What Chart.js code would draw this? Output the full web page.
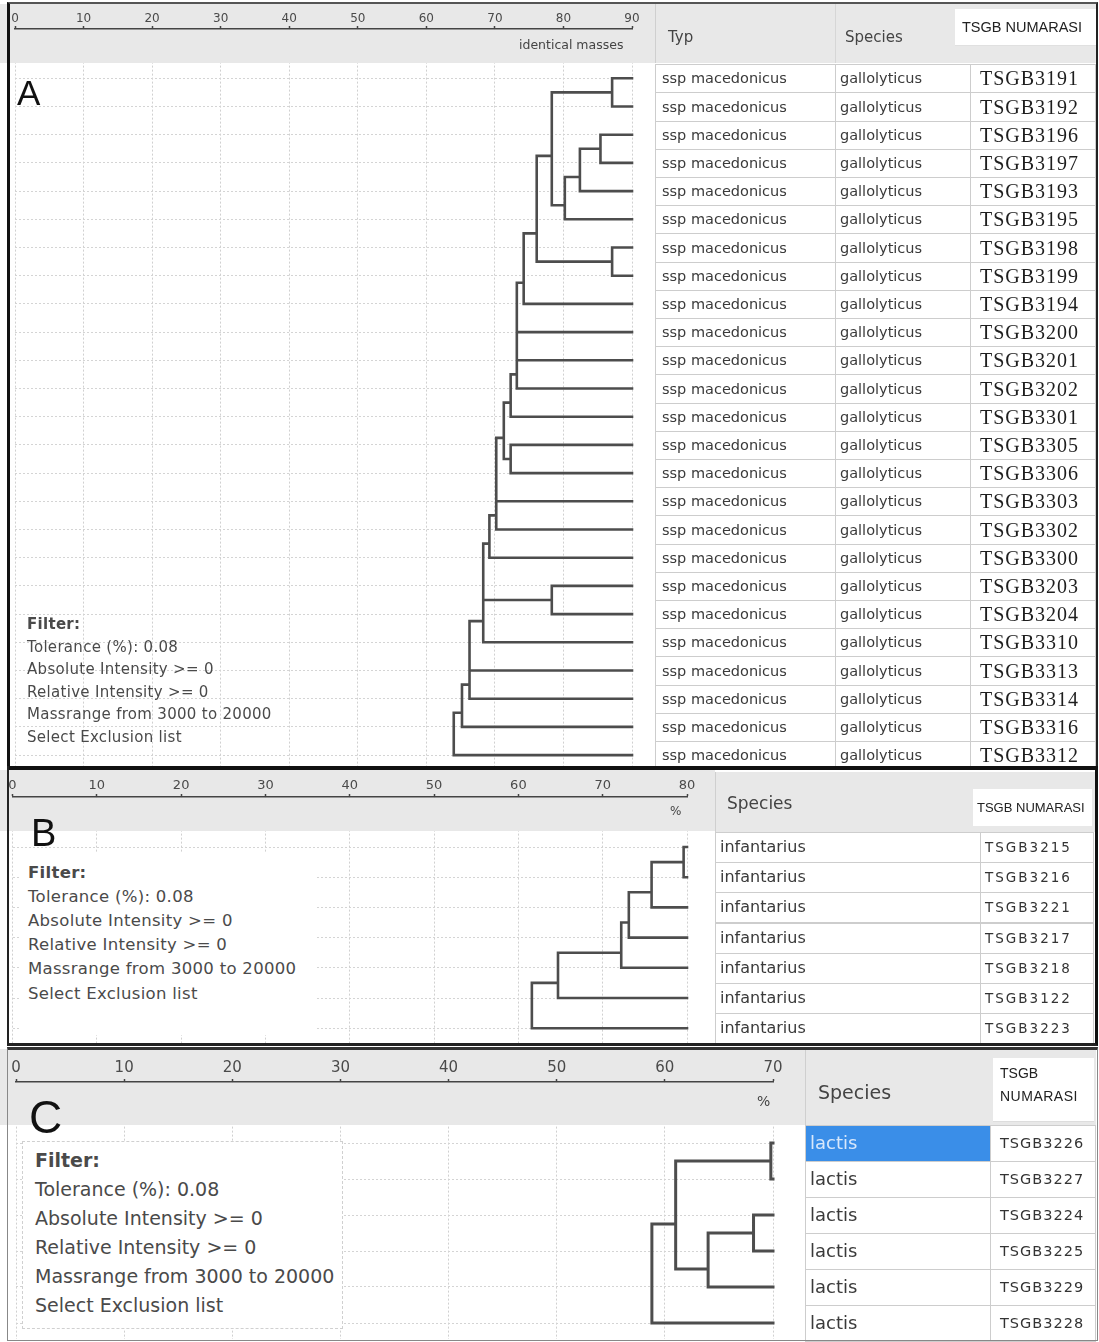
<!DOCTYPE html>
<html>
<head>
<meta charset="utf-8">
<script src="https://cdn.jsdelivr.net/npm/chart.js@4.4.1/dist/chart.umd.min.js"></script>
<style>
  html, body { margin:0; padding:0; background:#fff; }
  body { position:relative; width:1099px; height:1342px; overflow:hidden; font-family:"DejaVu Sans", sans-serif; color:#3c3c3c; }
  .a { position:absolute; white-space:nowrap; box-sizing:border-box; }
  canvas { position:absolute; }
</style>
</head>
<body>
<script>
// ================= DATA =================
// Panel A
const ticksA = [0, 10, 20, 30, 40, 50, 60, 70, 80, 90];
const leafValueA = 90;
const typA = ["ssp macedonicus","ssp macedonicus","ssp macedonicus","ssp macedonicus","ssp macedonicus",
  "ssp macedonicus","ssp macedonicus","ssp macedonicus","ssp macedonicus","ssp macedonicus",
  "ssp macedonicus","ssp macedonicus","ssp macedonicus","ssp macedonicus","ssp macedonicus",
  "ssp macedonicus","ssp macedonicus","ssp macedonicus","ssp macedonicus","ssp macedonicus",
  "ssp macedonicus","ssp macedonicus","ssp macedonicus","ssp macedonicus","ssp macedonicus"];
const speciesA = ["gallolyticus","gallolyticus","gallolyticus","gallolyticus","gallolyticus",
  "gallolyticus","gallolyticus","gallolyticus","gallolyticus","gallolyticus",
  "gallolyticus","gallolyticus","gallolyticus","gallolyticus","gallolyticus",
  "gallolyticus","gallolyticus","gallolyticus","gallolyticus","gallolyticus",
  "gallolyticus","gallolyticus","gallolyticus","gallolyticus","gallolyticus"];
const idsA = ["TSGB3191","TSGB3192","TSGB3196","TSGB3197","TSGB3193","TSGB3195","TSGB3198","TSGB3199",
  "TSGB3194","TSGB3200","TSGB3201","TSGB3202","TSGB3301","TSGB3305","TSGB3306","TSGB3303","TSGB3302",
  "TSGB3300","TSGB3203","TSGB3204","TSGB3310","TSGB3313","TSGB3314","TSGB3316","TSGB3312"];
// merges: [upper child, lower child, similarity]; leaves are 0..n-1, merge k becomes node n+k
const mergesA = [[0,1,87.1],[2,3,85.4],[26,4,82.4],[27,5,80.2],[25,28,78.3],[6,7,87.1],[29,30,76.1],
  [31,8,74.2],[32,9,73.2],[33,10,73.2],[34,11,73.2],[35,12,72.3],[13,14,72.3],[36,37,71.3],
  [38,15,70.2],[39,16,70.2],[40,17,69.2],[18,19,78.3],[41,42,68.3],[43,20,68.3],[44,21,66.3],
  [45,22,66.3],[46,23,65.2],[47,24,64.0]];

// Panel B
const ticksB = [0, 10, 20, 30, 40, 50, 60, 70, 80];
const leafValueB = 80;
const speciesB = ["infantarius","infantarius","infantarius","infantarius","infantarius","infantarius","infantarius"];
const idsB = ["TSGB3215","TSGB3216","TSGB3221","TSGB3217","TSGB3218","TSGB3122","TSGB3223"];
const mergesB = [[0,1,79.6],[7,2,75.8],[8,3,73.1],[9,4,72.2],[10,5,64.7],[11,6,61.6]];

// Panel C
const ticksC = [0, 10, 20, 30, 40, 50, 60, 70];
const leafValueC = 70;
const speciesC = ["lactis","lactis","lactis","lactis","lactis","lactis"];
const idsC = ["TSGB3226","TSGB3227","TSGB3224","TSGB3225","TSGB3229","TSGB3228"];
const mergesC = [[0,1,69.8],[2,3,68.2],[7,4,64.0],[6,8,61.0],[9,5,58.8]];

const filterLines = ["Filter:", "Tolerance (%): 0.08", "Absolute Intensity >= 0", "Relative Intensity >= 0",
  "Massrange from 3000 to 20000", "Select Exclusion list"];

// ================= LAYOUT / STYLE =================
const BAND = '#e8e8e8';
Chart.defaults.font.family = 'DejaVu Sans';

function box(css, text) {
  const d = document.createElement('div');
  d.className = 'a';
  d.style.cssText = css;
  if (text != null) d.textContent = text;
  document.body.appendChild(d);
  return d;
}
function label(x, cy, h, text, css) {
  return box(`left:${x}px;top:${cy - h/2}px;height:${h}px;line-height:${h}px;${css||''}`, text);
}

function dendro(L, nLeaves, merges, leafVal, ticks) {
  const W = L.right - L.left, H = L.bottom - L.top;
  const cv = document.createElement('canvas');
  cv.width = W; cv.height = H;
  cv.style.cssText = `left:${L.left}px;top:${L.top}px;width:${W}px;height:${H}px;`;
  document.body.appendChild(cv);

  // tree layout (y in leaf-index units, x = similarity)
  // a node sits halfway between the lower end of its upper child's bracket and its lower child
  const yv = [], hv = [], lowEnd = [];
  for (let i = 0; i < nLeaves; i++) { yv.push(i); hv.push(leafVal); lowEnd.push(i); }
  const pts = [];
  merges.forEach(([a, b, h]) => {
    const y = (lowEnd[a] + yv[b]) / 2;
    pts.push({x: hv[a], y: yv[a]}, {x: h, y: yv[a]}, {x: h, y: yv[b]}, {x: hv[b], y: yv[b]}, {x: null, y: null});
    yv.push(y); hv.push(h); lowEnd.push(yv[b]);
  });

  const AXH = L.axH;
  const yMin = -(L.leaf0 - L.axisY) / L.rowH;
  const yMax = yMin + (L.bottom - L.axisY) / L.rowH;
  const bBot = L.bandBottom - L.top;
  const band = {
    id: 'band',
    beforeDraw(c) {
      const x = c.ctx; x.save();
      x.fillStyle = '#fff'; x.fillRect(0, 0, c.width, c.height);
      x.fillStyle = BAND; x.fillRect(0, 0, c.width, bBot);
      x.restore();
    },
    beforeDatasetsDraw(c) {
      const x = c.ctx, t = c.chartArea.top; x.save();
      x.fillStyle = BAND; x.fillRect(0, t + 1, c.width, bBot - t - 1);
      x.restore();
    }
  };

  new Chart(cv, {
    type: 'line',
    data: { datasets: [{
      data: pts, borderColor: '#4d4d4d', borderWidth: L.lw, pointRadius: 0, pointHoverRadius: 0,
      spanGaps: false, tension: 0, fill: false, clip: false, borderCapStyle: 'square', borderJoinStyle: 'miter'
    }] },
    options: {
      responsive: false, maintainAspectRatio: false, animation: false, devicePixelRatio: 1, events: [],
      layout: { padding: { left: L.x0 - L.left, right: L.right - L.x1, top: L.axisY - L.top - AXH, bottom: 0 } },
      plugins: { legend: { display: false }, tooltip: { enabled: false } },
      scales: {
        x: {
          type: 'linear', position: 'top', min: ticks[0], max: ticks[ticks.length - 1],
          afterBuildTicks(s) { s.ticks = ticks.map(v => ({ value: v })); },
          afterFit(s) { s.height = AXH; },
          ticks: { color: '#4a4a4a', font: { size: L.tickFont }, padding: L.tickPad, maxRotation: 0, autoSkip: false },
          grid: { color: '#d0d0d0', lineWidth: 1, drawTicks: true, tickLength: 3, tickColor: '#444', tickWidth: 1.5 },
          border: { display: true, color: '#444', width: 1.6, dash: [2, 2] }
        },
        y: {
          type: 'linear', reverse: true, min: yMin, max: yMax,
          afterBuildTicks(s) { s.ticks = Array.from({ length: nLeaves }, (_, i) => ({ value: i })); },
          afterFit(s) { s.width = 0; },
          ticks: { display: false },
          grid: { color: '#d4d4d4', lineWidth: 1, drawTicks: false, tickLength: 0 },
          border: { display: false, dash: [2, 2] }
        }
      }
    },
    plugins: [band]
  });
}

// ---------- Panel A ----------
const LA = { left: 0, right: 655, top: 4, bottom: 766, bandBottom: 63, axisY: 29, axH: 24, leaf0: 78.3, rowH: 28.2,
  x0: 15, x1: 632, tickFont: 12, tickPad: 0, lw: 2.6 };
dendro(LA, idsA.length, mergesA, leafValueA, ticksA);
label(519, 45, 16, 'identical masses', 'font-size:12.5px;color:#444;');
label(17, 92.5, 40, 'A', 'font-family:"Liberation Sans";font-size:35px;color:#111;');
filterLines.forEach((t, i) => label(27, 624 + i * 22.5, 20, t,
  `font-size:15px;letter-spacing:0.3px;color:#4a4a4a;${i === 0 ? 'font-weight:bold;' : ''}`));

// table A
box(`left:655px;top:4px;width:441px;height:59px;background:${BAND};border-left:1px solid #cfcfcf;`);
box('left:835px;top:4px;width:1px;height:59px;background:#d6d6d6;');
label(668, 37, 20, 'Typ', 'font-size:15px;color:#444;');
label(845, 37, 20, 'Species', 'font-size:15px;color:#444;');
box('left:955px;top:9px;width:141px;height:37px;background:#fff;border-bottom:1px solid #e0e0e0;');
label(962, 27, 18, 'TSGB NUMARASI', 'font-family:"Liberation Sans";font-size:14.5px;color:#222;');
idsA.forEach((id, i) => {
  const top = LA.leaf0 - LA.rowH / 2 + i * LA.rowH, cy = LA.leaf0 + i * LA.rowH;
  box(`left:655px;top:${top}px;width:181px;height:${LA.rowH + 1}px;border:1px solid #cdcdcd;background:#fff;`);
  box(`left:835px;top:${top}px;width:136px;height:${LA.rowH + 1}px;border:1px solid #cdcdcd;background:#fff;`);
  box(`left:970px;top:${top}px;width:126px;height:${LA.rowH + 1}px;border:1px solid #cdcdcd;background:#fff;`);
  label(662, cy, 20, typA[i], 'font-size:14.5px;color:#3a3a3a;');
  label(840, cy, 20, speciesA[i], 'font-size:14.5px;color:#3a3a3a;');
  label(980, cy, 24, id, 'font-family:"Liberation Serif";font-size:20px;letter-spacing:1px;color:#1e1e1e;');
});

// ---------- Panel B ----------
const LB = { left: 0, right: 715, top: 770, bottom: 1043, bandBottom: 831, axisY: 797, axH: 25, leaf0: 847, rowH: 30.2,
  x0: 12.5, x1: 687, tickFont: 13, tickPad: 1, lw: 2.6 };
dendro(LB, idsB.length, mergesB, leafValueB, ticksB);
label(670, 811, 16, '%', 'font-size:12px;color:#444;');
box('left:20px;top:852px;width:297px;height:183px;background:#fff;');
label(31, 833, 42, 'B', 'font-family:"Liberation Sans";font-size:38px;color:#111;');
filterLines.forEach((t, i) => label(28, 873 + i * 24.1, 22, t,
  `font-size:16.5px;letter-spacing:0.3px;color:#4a4a4a;${i === 0 ? 'font-weight:bold;' : ''}`));

box(`left:715px;top:772px;width:380px;height:60px;background:${BAND};border-left:1px solid #cfcfcf;`);
label(727, 803, 22, 'Species', 'font-size:17px;color:#444;');
box('left:973px;top:789px;width:119px;height:37px;background:#fff;');
label(977, 808, 16, 'TSGB NUMARASI', 'font-family:"Liberation Sans";font-size:13px;color:#222;');
idsB.forEach((id, i) => {
  const top = LB.leaf0 - LB.rowH / 2 + i * LB.rowH, cy = LB.leaf0 + i * LB.rowH;
  box(`left:715px;top:${top}px;width:266px;height:${LB.rowH + 1}px;border:1px solid #cdcdcd;background:#fff;`);
  box(`left:980px;top:${top}px;width:114px;height:${LB.rowH + 1}px;border:1px solid #cdcdcd;background:#fff;`);
  label(720, cy, 22, speciesB[i], 'font-size:16px;color:#3a3a3a;');
  label(985, cy, 20, id, 'font-size:13.5px;letter-spacing:2px;color:#333;');
});

// ---------- Panel C ----------
const LC = { left: 0, right: 805, top: 1049, bottom: 1339, bandBottom: 1125, axisY: 1082, axH: 30, leaf0: 1143, rowH: 36,
  x0: 16, x1: 773, tickFont: 15, tickPad: 2, lw: 3 };
dendro(LC, idsC.length, mergesC, leafValueC, ticksC);
label(757, 1101, 18, '%', 'font-size:14px;color:#444;');
box('left:22px;top:1141px;width:321px;height:188px;background:#fff;border:1px dashed #d0d0d0;');
label(29, 1117, 50, 'C', 'font-family:"Liberation Sans";font-size:46px;color:#111;');
filterLines.forEach((t, i) => label(35, 1160 + i * 29, 26, t,
  `font-size:19px;color:#4a4a4a;${i === 0 ? 'font-weight:bold;' : ''}`));

box(`left:805px;top:1050px;width:291px;height:75px;background:${BAND};border-left:1px solid #cfcfcf;`);
label(818, 1092, 26, 'Species', 'font-size:19px;color:#444;');
box('left:993px;top:1058px;width:101px;height:64px;background:#fff;border-bottom:1px solid #ddd;');
label(1000, 1073, 16, 'TSGB', 'font-family:"Liberation Sans";font-size:14px;color:#222;');
label(1000, 1096, 16, 'NUMARASI', 'font-family:"Liberation Sans";font-size:14px;letter-spacing:0.5px;color:#222;');
idsC.forEach((id, i) => {
  const top = LC.leaf0 - LC.rowH / 2 + i * LC.rowH, cy = LC.leaf0 + i * LC.rowH;
  const sel = i === 0;
  box(`left:805px;top:${top}px;width:186px;height:${LC.rowH + 1}px;border:1px solid #cdcdcd;background:${sel ? '#3a8ee8' : '#fff'};`);
  box(`left:990px;top:${top}px;width:106px;height:${LC.rowH + 1}px;border:1px solid #cdcdcd;background:#fff;`);
  label(810, cy, 26, speciesC[i], `font-size:18px;color:${sel ? '#d8e8fb' : '#3a3a3a'};`);
  label(1000, cy, 22, id, 'font-size:14.5px;letter-spacing:1px;color:#333;');
});

// ---------- Frames ----------
box('left:7px;top:2px;width:1091px;height:768px;border-left:3px solid #111;border-top:2px solid #555;border-right:2px solid #222;border-bottom:4px solid #111;');
box('left:7px;top:766px;width:1091px;height:280px;border-left:2px solid #222;border-right:3px solid #111;border-bottom:3px solid #222;');
box('left:7px;top:1047px;width:1091px;height:294px;border-top:3px solid #333;border-left:1px solid #888;border-right:1px solid #888;border-bottom:1px solid #888;');
</script>
</body>
</html>
